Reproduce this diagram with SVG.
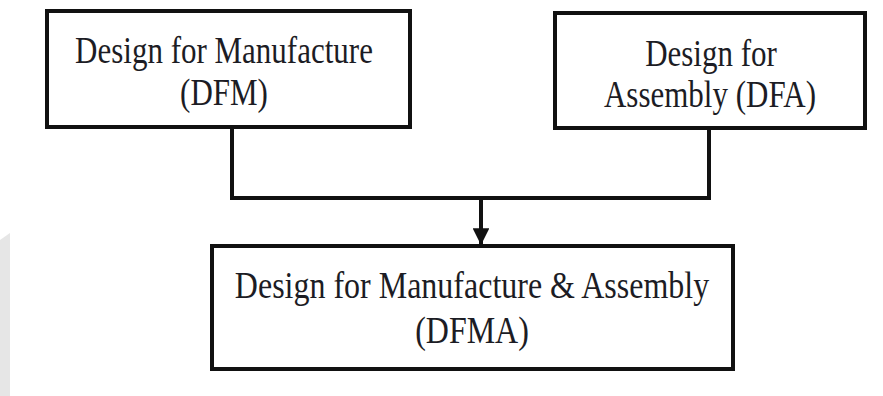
<svg xmlns="http://www.w3.org/2000/svg" width="883" height="396" viewBox="0 0 883 396">
  <defs>
    <style>
      .box { fill: #ffffff; stroke: #111111; stroke-width: 4; }
      .wire { fill: none; stroke: #111111; stroke-width: 4; }
      .lbl { font-family: "Liberation Serif", "Times New Roman", serif; font-size: 31px; fill: #1c1c24; text-anchor: middle; }
      .big { font-size: 32px; }
    </style>
    <marker id="head" viewBox="0 0 10 10" refX="10" refY="5" markerWidth="4.2" markerHeight="4.2" markerUnits="strokeWidth" orient="auto">
      <path d="M0,0 L10,5 L0,10 z" fill="#111111"/>
    </marker>
  </defs>

  <rect width="883" height="396" fill="#ffffff"/>
  <!-- faint edge shading at the lower left -->
  <polygon points="0,240 10,233 10,396 0,396" fill="#e6e6e6"/>

  <g id="connectors">
    <polyline class="wire" points="232,127 232,198 709,198 709,128"/>
    <line class="wire" x1="481" y1="198" x2="481" y2="245" marker-end="url(#head)"/>
  </g>

  <g id="dfm">
    <rect class="box" x="47" y="11" width="363" height="116"/>
    <text class="lbl" transform="translate(224,63) scale(1,1.2)">Design for Manufacture</text>
    <text class="lbl" transform="translate(224,105) scale(1,1.2)">(DFM)</text>
  </g>

  <g id="dfa">
    <rect class="box" x="555" y="13" width="310" height="115"/>
    <text class="lbl" transform="translate(711,66) scale(1,1.2)">Design for</text>
    <text class="lbl" transform="translate(710,107) scale(1,1.2)">Assembly (DFA)</text>
  </g>

  <g id="dfma">
    <rect class="box" x="212" y="246" width="521" height="123"/>
    <text class="lbl big" transform="translate(472,298) scale(1,1.2)">Design for Manufacture &amp; Assembly</text>
    <text class="lbl big" transform="translate(472,343) scale(1,1.2)">(DFMA)</text>
  </g>
</svg>
